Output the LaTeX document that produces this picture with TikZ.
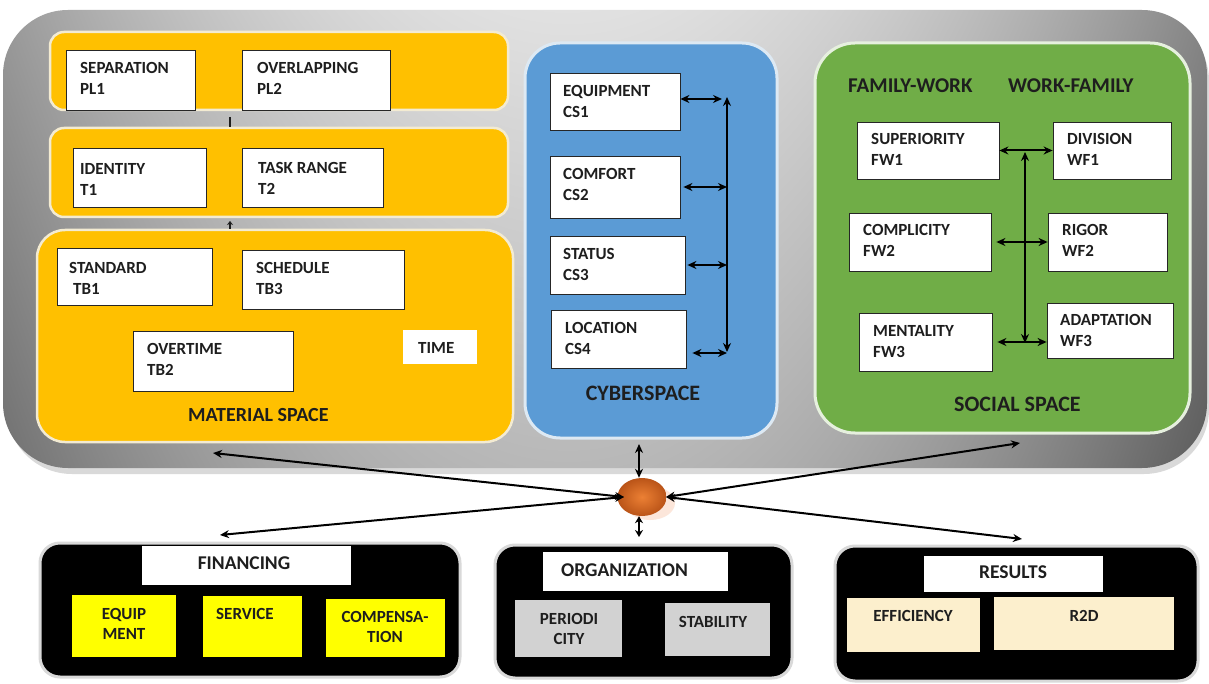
\documentclass[tikz,border=0pt]{standalone}
\usepackage{fontspec}
\setmainfont{Carlito}
\usetikzlibrary{arrows.meta,fit,shapes.geometric}
\definecolor{orng}{HTML}{FFC000}
\definecolor{bandedge}{HTML}{F3EBD2}
\definecolor{cyb}{HTML}{5B9BD5}
\definecolor{cybedge}{HTML}{DDE9F3}
\definecolor{soc}{HTML}{70AD47}
\definecolor{socedge}{HTML}{E6F0DE}
\definecolor{ylw}{HTML}{FFFF00}
\definecolor{lgray}{HTML}{D2D2D2}
\definecolor{cream}{HTML}{FCEFCD}
\definecolor{ink}{HTML}{1E1E1E}
\definecolor{hubin}{RGB}{236,128,52}
\definecolor{hubout}{RGB}{186,84,24}
\definecolor{hubshadow}{RGB}{252,230,218}
\pgfdeclarefunctionalshading{panelfn}{\pgfpoint{-50bp}{-50bp}}{\pgfpoint{50bp}{50bp}}{}{
  25 div exch 25 div
  dup dup mul 0.32 mul exch 0.04 mul add
  exch 1 exch sub 0.08 mul add
  0.88 exch sub dup dup
}
\newcommand\bx[3]{\node[#2, fit={#3}] (#1) {};}
\tikzset{
  band/.style={inner sep=0pt, fill=orng, draw=bandedge, line width=2.5pt},
  wbox/.style={inner sep=0pt, fill=white, draw=black!85, line width=0.8pt},
  pbox/.style={inner sep=0pt, fill=white},
  blk/.style={inner sep=0pt, fill=black, draw=black!15, line width=3pt, rounded corners=20pt},
  ybox/.style={inner sep=0pt, fill=ylw},
  gbox/.style={inner sep=0pt, fill=lgray},
  cbox/.style={inner sep=0pt, fill=cream},
  txt/.style={font=\bfseries\fontsize{17}{21}\selectfont, text=ink, inner sep=0pt, align=left, anchor=north west},
  ttl/.style={font=\bfseries\fontsize{21}{25}\selectfont, text=ink, inner sep=0pt, anchor=north west},
  btxt/.style={font=\bfseries\fontsize{17}{20}\selectfont, text=ink, inner sep=0pt, align=center, anchor=north},
  htxt/.style={font=\bfseries\fontsize{19.5}{22}\selectfont, text=ink, inner sep=0pt, anchor=north},
  dbl/.style={{Stealth[length=9pt,width=8pt]}-{Stealth[length=9pt,width=8pt]}, line width=2pt},
}
\begin{document}
\begin{tikzpicture}[x=1pt,y=-1pt]
\useasboundingbox (0,0) rectangle (1209,684);
\fill[white] (0,0) rectangle (1209,684);
% shadow + gray panel
\fill[black, opacity=0.15, rounded corners=65pt] (7,16) rectangle (1209,474);
\node[inner sep=0pt, rounded corners=65pt, shading=panelfn, fit={(3,10) (1207,468)}] (panel) {};
% material space
\bx{band1}{band, rounded corners=14pt}{(50,32) (508,110)}
\bx{band2}{band, rounded corners=14pt}{(50,128) (508,217)}
\bx{mat}{band, rounded corners=28pt}{(37,230) (513,442)}
\bx{sep}{wbox}{(66,50) (195,110)}
\bx{ovl}{wbox}{(242,50) (390,110)}
\bx{ide}{wbox}{(73,148) (206,207)}
\bx{tsk}{wbox}{(242,148) (383,207)}
\bx{std}{wbox}{(57,248) (212,305)}
\bx{sch}{wbox}{(242,250) (404,309)}
\bx{ovt}{wbox}{(133,331) (293,391)}
\bx{tim}{pbox}{(403,330) (477,364)}
\node[txt] (tsep) at (80,62) {SEPARATION\\PL1};
\node[txt] (tovl) at (257,62) {OVERLAPPING\\PL2};
\node[txt] (tide) at (80,163) {IDENTITY\\T1};
\node[txt] (ttsk) at (258,162) {TASK RANGE\\T2};
\node[txt] (tstd) at (69,262) {STANDARD\\\hspace{4pt}TB1};
\node[txt] (tsch) at (256,262) {SCHEDULE\\TB3};
\node[txt] (tovt) at (147,343) {OVERTIME\\TB2};
\node[txt] (ttim) at (418,342) {TIME};
\node[ttl, font=\bfseries\fontsize{20}{24}\selectfont] (tmat) at (188,408) {MATERIAL SPACE};
\coordinate (k1) at (230,117);
\coordinate (k2) at (230,229);
\coordinate (k3) at (230,221);
\draw[line width=2pt, ink] (k1) -- (k1 |- band2.north);
\draw[line width=1.5pt, ink, -{Stealth[length=4pt,width=6pt]}] (k2) -- (k3);
% cyberspace
\bx{cyber}{inner sep=0pt, fill=cyb, draw=cybedge, line width=3pt, rounded corners=35pt}{(525,43) (777,438)}
\bx{eq}{wbox}{(550,73) (680,130)}
\bx{cf}{wbox}{(550,156) (680,218)}
\bx{st}{wbox}{(550,236) (685,294)}
\bx{lc}{wbox}{(551,310) (686,368)}
\node[txt] (teq) at (563,85) {EQUIPMENT\\CS1};
\node[txt] (tcf) at (563,168) {COMFORT\\CS2};
\node[txt] (tst) at (563,248) {STATUS\\CS3};
\node[txt] (tlc) at (565,322) {LOCATION\\CS4};
\node[ttl, anchor=north, font=\bfseries\fontsize{22}{26}\selectfont] (tcyb) at (643,386) {CYBERSPACE};
\coordinate (cvt) at (727,97);
\coordinate (cvb) at (727,352);
\coordinate (cr1) at (722,99);
\coordinate (cr4) at (727,353);
\draw[dbl] (cvt) -- (cvb);
\draw[dbl] (eq.east |- cr1) -- (cr1);
\draw[dbl] ([xshift=3pt]cf.east) -- (cf.east -| cvt);
\draw[dbl] ([xshift=2pt]st.east) -- (st.east -| cvt);
\draw[dbl] ([xshift=6pt]lc.east |- cr4) -- (cr4);
% social space
\bx{social}{inner sep=0pt, fill=soc, draw=socedge, line width=3pt, rounded corners=40pt}{(815,43) (1190,433)}
\bx{sup}{wbox}{(857,122) (999,179)}
\bx{div}{wbox}{(1053,122) (1171,179)}
\bx{cmp}{wbox}{(849,213) (991,271)}
\bx{rig}{wbox}{(1048,213) (1167,271)}
\bx{men}{wbox}{(859,313) (992,371)}
\bx{ada}{wbox}{(1047,303) (1173,358)}
\node[ttl] (tfw) at (848,79) {FAMILY-WORK};
\node[ttl] (twf) at (1008,79) {WORK-FAMILY};
\node[txt] (tsup) at (871,133) {SUPERIORITY\\FW1};
\node[txt] (tdiv) at (1067,133) {DIVISION\\WF1};
\node[txt] (tcmp) at (863,224) {COMPLICITY\\FW2};
\node[txt] (trig) at (1062,224) {RIGOR\\WF2};
\node[txt] (tmen) at (873,325) {MENTALITY\\FW3};
\node[txt] (tada) at (1060,314) {ADAPTATION\\WF3};
\node[ttl, font=\bfseries\fontsize{22}{26}\selectfont] (tsoc) at (954,397) {SOCIAL SPACE};
\coordinate (svt) at (1025,152);
\coordinate (svb) at (1025,343);
\draw[dbl] (svt) -- (svb);
\draw[dbl] (sup.east) -- (sup.east -| div.west);
\draw[dbl] ([xshift=5pt]cmp.east) -- (cmp.east -| rig.west);
\draw[dbl] ([xshift=5pt]men.east) -- (men.east -| ada.west);
% bottom panels
\bx{finp}{blk}{(40,543) (460,677)}
\bx{finh}{pbox}{(142,546) (351,585)}
\bx{eqp}{ybox}{(72,595) (176,657)}
\bx{srv}{ybox}{(203,596) (302,657)}
\bx{cmpn}{ybox}{(326,599) (445,657)}
\node[htxt] (tfin) at (244,557) {FINANCING};
\node[btxt] (teqp) at (124,608) {EQUIP\\MENT};
\node[btxt, anchor=north west] (tsrv) at (216,608) {SERVICE};
\node[btxt] (tcmpn) at (385,611) {COMPENSA-\\TION};
\bx{orgp}{blk}{(495,545) (792,678)}
\bx{orgh}{pbox}{(543,552) (728,591)}
\bx{per}{gbox}{(515,600) (622,657)}
\bx{stab}{gbox}{(665,603) (770,656)}
\node[htxt, anchor=north west] (torg) at (561,564) {ORGANIZATION};
\node[btxt] (tper) at (569,613) {PERIODI\\CITY};
\node[btxt] (tstab) at (713,616) {STABILITY};
\bx{resp}{blk}{(835,546) (1198,681)}
\bx{resh}{pbox}{(924,556) (1103,592)}
\bx{eff}{cbox}{(847,598) (980,652)}
\bx{r2d}{cbox}{(994,597) (1174,650)}
\node[htxt] (tres) at (1013,566) {RESULTS};
\node[btxt] (teff) at (913,610) {EFFICIENCY};
\node[btxt] (tr2d) at (1084,610) {R2D};
% hub
\node[ellipse, inner sep=0pt, minimum width=50pt, minimum height=34pt, fill=hubshadow] (hubsh) at (650,503) {};
\node[ellipse, inner sep=0pt, minimum width=49pt, minimum height=38pt, inner color=hubin, outer color=hubout] (hub) at (642,497) {};
\coordinate (amat) at (213,453);
\coordinate (afin) at (220,535);
\coordinate (asoc) at (1020,443);
\coordinate (ares) at (1022,539);
\coordinate (hw) at (624,497);
\coordinate (he) at (666,497);
\coordinate (hup) at (639,444);
\coordinate (hdn) at (639,537);
\draw[dbl] (amat) -- (hw);
\draw[dbl] (afin) -- (hw);
\draw[dbl] (asoc) -- (he);
\draw[dbl] (ares) -- (he);
\draw[dbl] (hup) -- (hup |- hub.north);
\draw[dbl, {Stealth[length=7pt,width=8pt]}-{Stealth[length=7pt,width=8pt]}] (hdn |- hub.south) -- (hdn);
\end{tikzpicture}
\end{document}
